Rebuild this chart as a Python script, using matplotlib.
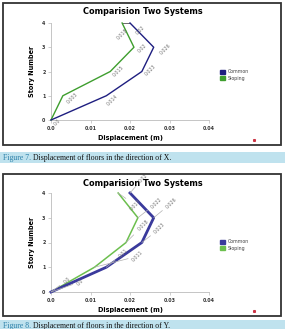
import numpy as np
import matplotlib.pyplot as plt
from matplotlib.patches import Rectangle, Patch
from matplotlib.lines import Line2D

# data
stories = [0, 1, 2, 3, 4]
x_common = [0.0, 0.014, 0.023, 0.026, 0.020]
x_sloping = [0.0, 0.003, 0.015, 0.021, 0.018]
y_common = [0.0, 0.014, 0.023, 0.026, 0.020]
y_sloping = [0.0, 0.011, 0.019, 0.022, 0.017]
xticks = [0.0, 0.01, 0.02, 0.03, 0.04]
xtick_labels = ["0.0", "0.01", "0.02", "0.03", "0.04"]
title = "Comparision Two Systems"
captions = [("Figure 7.", " Displacement of floors in the direction of X."),
            ("Figure 8.", " Displacement of floors in the direction of Y.")]

W, H = 287, 329
fig = plt.figure(figsize=(W / 100, H / 100), dpi=100)


def fx(px):
    return px / W


def fy(py):
    return 1 - py / H


def chart(top_box, bot_box, ax_top, ax_bot, common, sloping, lw_c, lw_s,
          c_col, s_col, labels_c, labels_s, leaders, cap, cap_top, cap_bot):
    # frame
    fig.patches.append(Rectangle((fx(3), fy(bot_box)), fx(278), (bot_box - top_box) / H,
                                 transform=fig.transFigure, fill=False,
                                 edgecolor='#333333', lw=1.3))
    ax = fig.add_axes([fx(51), fy(ax_bot), fx(158), (ax_bot - ax_top) / H])
    ax.plot(sloping, stories, color=s_col, lw=lw_s, zorder=3, clip_on=False)
    ax.plot(common, stories, color=c_col, lw=lw_c, zorder=4, clip_on=False)
    for i in range(len(stories)):
        for xs, lab in ((common, labels_c), (sloping, labels_s)):
            dx, dy, txt = lab[i]
            if not txt:
                continue
            ap = dict(arrowstyle='-', color='#b0b0b0', lw=0.5,
                      shrinkA=0, shrinkB=0) if leaders else None
            ax.annotate(txt, (xs[i], stories[i]), xytext=(dx, dy),
                        textcoords='offset pixels', fontsize=3.4, color='#777777',
                        rotation=45, ha='center', va='center', arrowprops=ap,
                        zorder=5, annotation_clip=False)
    ax.set_xlim(0, 0.04)
    ax.set_ylim(0, 4)
    ax.set_xticks(xticks)
    ax.set_xticklabels(xtick_labels)
    ax.set_yticks(stories)
    for s in ['top', 'right']:
        ax.spines[s].set_visible(False)
    for s in ['left', 'bottom']:
        ax.spines[s].set_color('#bbbbbb')
        ax.spines[s].set_linewidth(0.6)
    ax.tick_params(length=2, width=0.5, color='#bbbbbb', labelsize=3.4,
                   labelcolor='#333333', pad=2)
    for t in ax.get_xticklabels() + ax.get_yticklabels():
        t.set_fontweight('bold')
    ax.set_xlabel("Displacement (m)", fontsize=4.7, fontweight='bold', labelpad=3)
    ax.set_ylabel("Story Number", fontsize=4.7, fontweight='bold', labelpad=5)
    fig.text(fx(143), fy(top_box + 9), title, fontsize=5.9, fontweight='bold',
             ha='center', va='center')
    handles = [Patch(color=c_col, label='Common'), Patch(color=s_col, label='Sloping')]
    fig.legend(handles=handles, loc='upper left', frameon=False, fontsize=3.4,
               bbox_to_anchor=(fx(216), fy(ax_top + 42)), handlelength=1.0,
               handleheight=1.0, handletextpad=0.5, labelspacing=0.3,
               labelcolor='#444444')
    fig.lines.append(Line2D([fx(254)], [fy(bot_box - 5)], marker='s', ms=1.2,
                            color='#cc3344', transform=fig.transFigure))
    # caption band
    fig.patches.append(Rectangle((0, fy(cap_bot)), fx(285), (cap_bot - cap_top) / H,
                                 transform=fig.transFigure, color='#bfe2ee', lw=0))
    tx = fig.text(fx(3), fy((cap_top + cap_bot) / 2 + 0.5), cap[0], fontsize=5.6,
                  color='#2a7fa8', family='Liberation Serif', va='center')
    fig.canvas.draw()
    bb = tx.get_window_extent()
    fig.text(bb.x1 / fig.bbox.width, fy((cap_top + cap_bot) / 2 + 0.5), cap[1],
             fontsize=5.6, color='#111111', family='Liberation Serif', va='center')
    return ax


# label offsets (pixels, y up) and texts, per story
lab1_c = [(6, -2, "0.0"), (6, -4, "0.014"), (9, 1, "0.023"), (12, -2, "0.026"), (10, -7, "0.02")]
lab1_s = [(0, 0, ""), (10, -2, "0.003"), (8, 0, "0.015"), (8, -1, "0.02"), (0, -11, "0.018")]
ax1 = chart(3, 145, 23, 120, x_common, x_sloping, 1.0, 1.0, '#1e1e80', '#3e9e2e',
            lab1_c, lab1_s, False, captions[0], 152, 163)
ax1.plot([x_sloping[4], x_common[4]], [4, 4], color='#555555', lw=0.6, zorder=2,
         clip_on=False)

lab2_c = [(29, 10, "0.0"), (17, 14, "0.01"), (18, 14, "0.023"), (18, 15, "0.026"), (13, 15, "0.02")]
lab2_s = [(16, 12, "0.0"), (43, 11, "0.011"), (17, 17, "0.018"), (19, 15, "0.022"), (17, -12, "0.017")]
ax2 = chart(174, 316, 193, 292, y_common, y_sloping, 2.0, 1.1, '#3a3a9c', '#6cbf4e',
            lab2_c, lab2_s, True, captions[1], 320, 331)

plt.savefig('out.png', dpi=100)
